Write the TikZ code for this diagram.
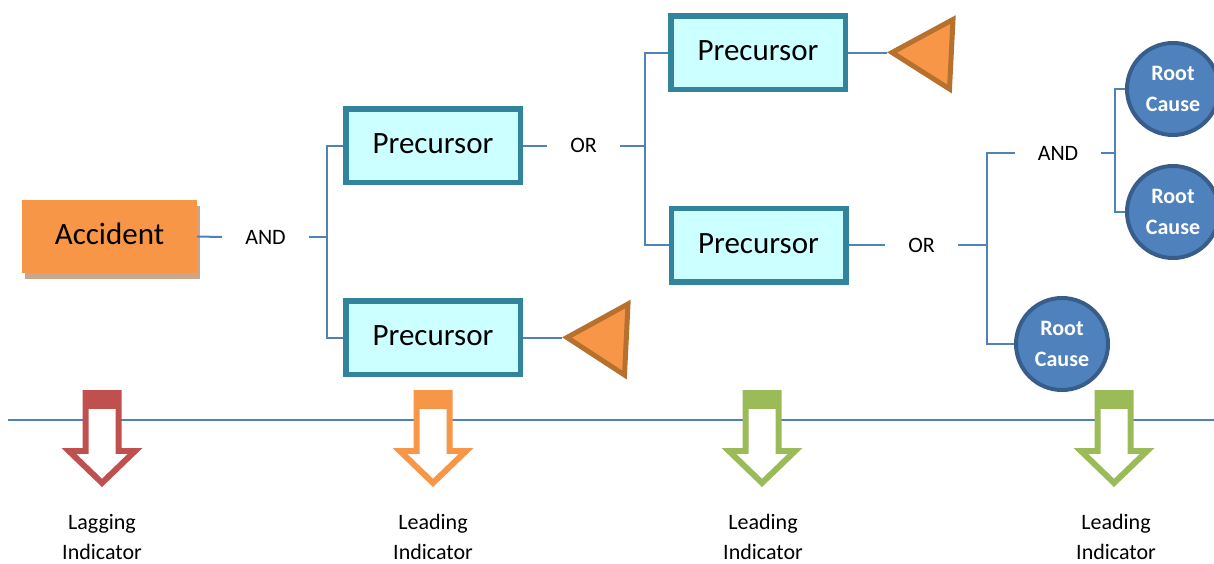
\documentclass[tikz,border=0pt]{standalone}
\usepackage{fontspec}
\setmainfont{Carlito}
\definecolor{linkblue}{HTML}{4F81BD}
\definecolor{tealborder}{HTML}{31849B}
\definecolor{paleteal}{HTML}{CCFFFF}
\definecolor{accorange}{HTML}{F79646}
\definecolor{accshadow}{HTML}{CBA58A}
\definecolor{tribrown}{HTML}{B7712F}
\definecolor{causeedge}{HTML}{385D8A}
\definecolor{lagred}{HTML}{C0504D}
\definecolor{leadgreen}{HTML}{9BBB59}
\tikzset{
  link/.style={draw=linkblue, line width=2pt},
  precursor/.style={draw=tealborder, fill=paleteal, line width=5.5pt,
    minimum width=174.5pt, minimum height=73.5pt, inner sep=0pt,
    font=\fontsize{31}{36}\selectfont},
  gate/.style={inner xsep=23pt, inner ysep=2pt, font=\fontsize{22}{26}\selectfont},
  rootcause/.style={circle, draw=causeedge, fill=linkblue, line width=4pt,
    minimum size=92pt, inner sep=0pt, text=white, align=center,
    font=\fontsize{22}{31}\selectfont\bfseries},
  marker/.style={draw=tribrown, fill=accorange, line width=5pt, line join=miter},
  indlabel/.style={align=center, inner sep=0pt, font=\fontsize{22}{30}\selectfont}
}
\begin{document}
\begin{tikzpicture}[x=1pt, y=-1pt]
\useasboundingbox (0,0) rectangle (1214,563);

% accident box with its drop shadow
\fill[accshadow] (25,206) rectangle (200,279);
\node[fill=accorange, minimum width=175pt, minimum height=73pt, inner sep=0pt,
  font=\fontsize{31}{36}\selectfont] (acc) at (109.5,236.5) {\raisebox{6pt}{Accident}};

% precursor boxes
\node[precursor] (p1) at (433,145.5) {\raisebox{3pt}{Precursor}};
\node[precursor] (p2) at (433,337.5) {\raisebox{3pt}{Precursor}};
\node[precursor] (p3) at (758,52.5) {\raisebox{3pt}{Precursor}};
\node[precursor] (p4) at (758.5,245) {\raisebox{3pt}{Precursor}};

% root causes
\node[rootcause] (rc1) at (1173,89) {Root\\Cause};
\node[rootcause] (rc2) at (1173,212) {Root\\Cause};
\node[rootcause] (rc3) at (1062,344) {Root\\Cause};

% logic gates
\node[gate] (and1) at (265.5,237) {AND};
\node[gate] (or1) at (583.5,145.5) {OR};
\node[gate] (or2) at (921.5,245) {OR};
\node[gate] (and2) at (1058,153) {AND};

% junctions of the tree
\coordinate (j1) at (327,237);
\coordinate (j2) at (645,145.5);
\coordinate (j3) at (987,245);
\coordinate (j4) at (1115,153);
\coordinate (t1tip) at (562,337.5);
\coordinate (t2tip) at (887,52.5);

% connectors
\draw[link] (acc.east) -- (and1.west);
\draw[link] (and1.east) -- (j1);
\draw[link] (p1.west) -| (j1) |- (p2.west);
\draw[link] (p1.east) -- (or1.west);
\draw[link] (or1.east) -- (j2);
\draw[link] (p3.west) -| (j2) |- (p4.west);
\draw[link] (p4.east) -- (or2.west);
\draw[link] (or2.east) -- (j3);
\draw[link] (and2.west) -| (j3) |- (rc3.west);
\draw[link] (and2.east) -- (j4);
\draw[link] (rc1.west) -| (j4) |- (rc2.west);
\draw[link] (p2.east) -- (t1tip);
\draw[link] (p3.east) -- (t2tip);

% undeveloped-event triangles
\draw[marker] (567,337.5) -- (628,304) -- (624.5,375) -- cycle;
\draw[marker] (892,52.5) -- (953,19.5) -- (949.5,89) -- cycle;

% timeline
\coordinate (tl0) at (8,420);
\coordinate (tl1) at (1214,420);
\draw[link] (tl0) -- (tl1);

% indicator arrows
\foreach \cx/\col in {102/lagred, 433/accorange, 762/leadgreen, 1114/leadgreen}{
  \begin{scope}[xshift=\cx pt]
    \fill[\col] (-19.5,390) -- (19.5,390) -- (19.5,448) -- (40.5,448) -- (0,487)
      -- (-40.5,448) -- (-19.5,448) -- cycle;
    \fill[white] (-13.5,409) -- (13.5,409) -- (13.5,454) -- (25.4,454) -- (0,478.5)
      -- (-25.4,454) -- (-13.5,454) -- cycle;
  \end{scope}
}

% indicator labels
\node[indlabel] (lab1) at (102,537) {Lagging\\Indicator};
\node[indlabel] (lab2) at (433,537) {Leading\\Indicator};
\node[indlabel] (lab3) at (763,537) {Leading\\Indicator};
\node[indlabel] (lab4) at (1116,537) {Leading\\Indicator};
\end{tikzpicture}
\end{document}
